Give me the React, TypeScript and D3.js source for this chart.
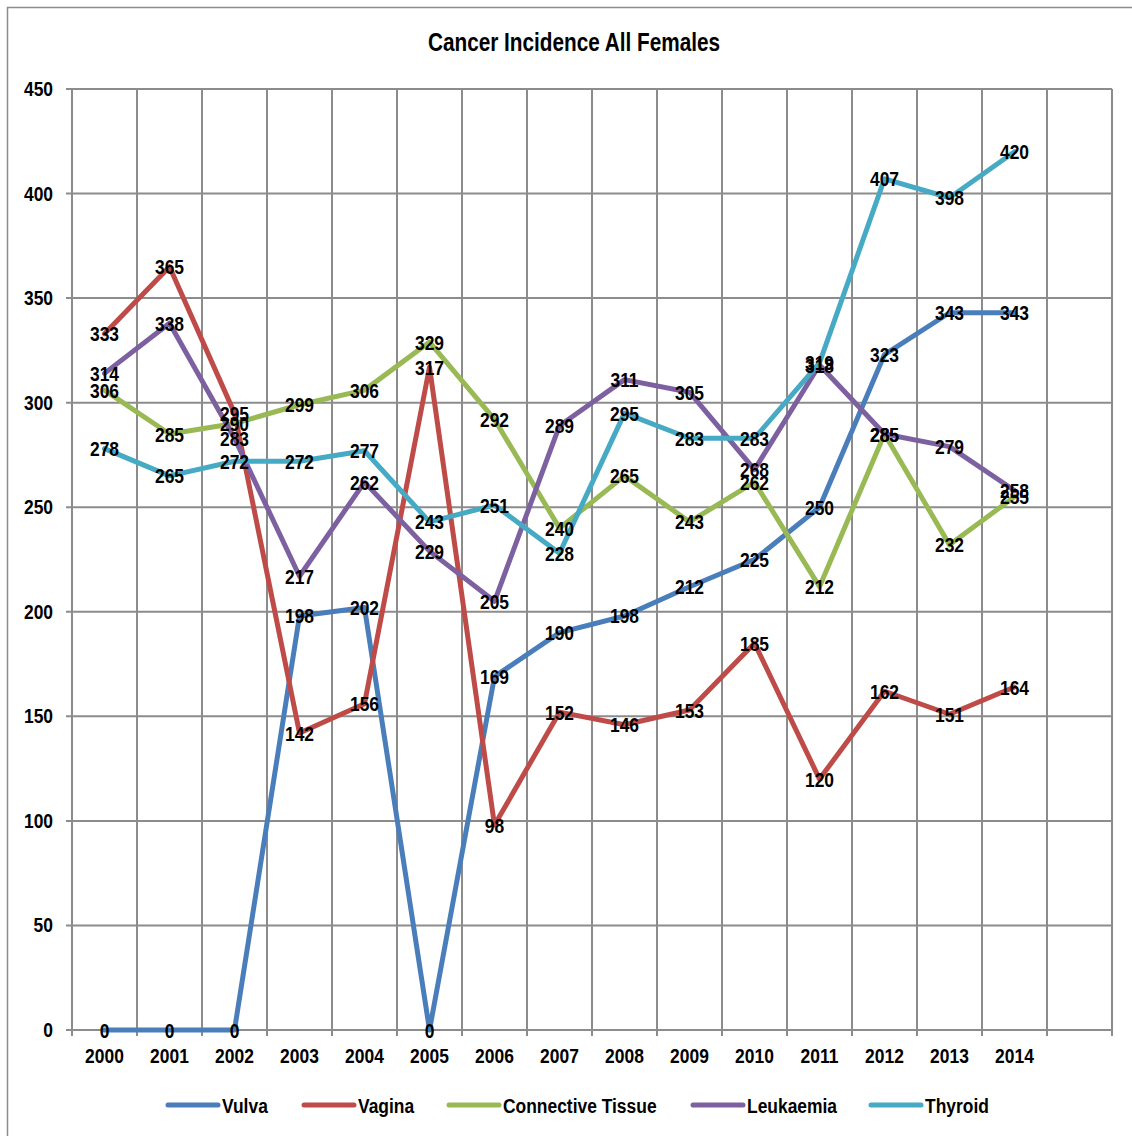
import React from "react";
import * as d3 from "d3";

const years = ["2000", "2001", "2002", "2003", "2004", "2005", "2006", "2007", "2008", "2009", "2010", "2011", "2012", "2013", "2014", ""];

const vulva = [0, 0, 0, 198, 202, 0, 169, 190, 198, 212, 225, 250, 323, 343, 343];
const vagina = [333, 365, 295, 142, 156, 317, 98, 152, 146, 153, 185, 120, 162, 151, 164];
const connective = [306, 285, 290, 299, 306, 329, 292, 240, 265, 243, 262, 212, 285, 232, 255];
const leukaemia = [314, 338, 283, 217, 262, 229, 205, 289, 311, 305, 268, 318, 285, 279, 258];
const thyroid = [278, 265, 272, 272, 277, 243, 251, 228, 295, 283, 283, 319, 407, 398, 420];

const yTicks = [0, 50, 100, 150, 200, 250, 300, 350, 400, 450];

const series = [
  { name: "Vulva", color: "#4A7EBB", values: vulva },
  { name: "Vagina", color: "#BE4B48", values: vagina },
  { name: "Connective Tissue", color: "#98B954", values: connective },
  { name: "Leukaemia", color: "#7D60A0", values: leukaemia },
  { name: "Thyroid", color: "#46AAC5", values: thyroid },
];

// legend slot starts (line start x)
const legendX = [166, 302, 447, 691, 869];

const FONT = "'Liberation Sans', Arial, sans-serif";

// condensed bold text, like Arial Narrow
function NText(props: { x: number; y: number; size?: number; anchor?: string; children: React.ReactNode }) {
  const { x, y, size = 21, anchor = "middle", children } = props;
  return (
    <text transform={`translate(${x},${y}) scale(0.83,1)`} textAnchor={anchor} fontSize={size} fontWeight="bold" fill="#000">
      {children}
    </text>
  );
}

export default function App() {
  const W = 1132, H = 1136;
  const left = 72, right = 1112, top = 89, bottom = 1030;

  const keys = years.map((yr, i) => yr + "_" + i);
  const x = d3.scaleBand().domain(keys).range([left, right]);
  const xc = (i: number) => (x(keys[i]) as number) + x.bandwidth() / 2;
  const y = d3.scaleLinear().domain([0, 450]).range([bottom, top]);

  const line = d3.line<number>().x((d, i) => xc(i)).y(d => y(d));

  const edges = keys.map(k => x(k) as number).concat([right]);

  return (
    <svg width={W} height={H} style={{ position: "absolute", left: 0, top: 0, background: "#fff" }} fontFamily={FONT}>
      <rect x={7.5} y={7.5} width={W + 10} height={H + 10} fill="#fff" stroke="#8c8c8c" strokeWidth={1.5} />
      <NText x={574} y={51} size={25}>Cancer Incidence All Females</NText>

      {/* horizontal grid */}
      {yTicks.map(t => (
        <g key={"h" + t}>
          <line x1={left - 6} x2={right} y1={y(t)} y2={y(t)} stroke="#8c8c8c" strokeWidth={2} />
          <NText x={53} y={y(t) + 7} anchor="end">{t}</NText>
        </g>
      ))}
      {/* vertical grid */}
      {edges.map((e, i) => (
        <line key={"v" + i} x1={e} x2={e} y1={top} y2={bottom + 6} stroke="#8c8c8c" strokeWidth={2} />
      ))}
      {years.map((yr, i) => (
        <NText key={"x" + i} x={xc(i)} y={bottom + 33}>{yr}</NText>
      ))}

      {series.map(s => (
        <path key={s.name} d={line(s.values) as string} fill="none" stroke={s.color} strokeWidth={5} strokeLinejoin="round" strokeLinecap="round" />
      ))}
      {series.map(s => (
        <g key={s.name + "l"}>
          {s.values.map((v, i) => (
            <NText key={i} x={xc(i)} y={y(v) + 7.5}>{v}</NText>
          ))}
        </g>
      ))}

      {series.map((s, i) => (
        <g key={s.name + "leg"} transform={`translate(${legendX[i]},1105)`}>
          <line x1={2} x2={52} y1={0} y2={0} stroke={s.color} strokeWidth={5} strokeLinecap="round" />
          <NText x={56} y={7.5} anchor="start">{s.name}</NText>
        </g>
      ))}
    </svg>
  );
}
